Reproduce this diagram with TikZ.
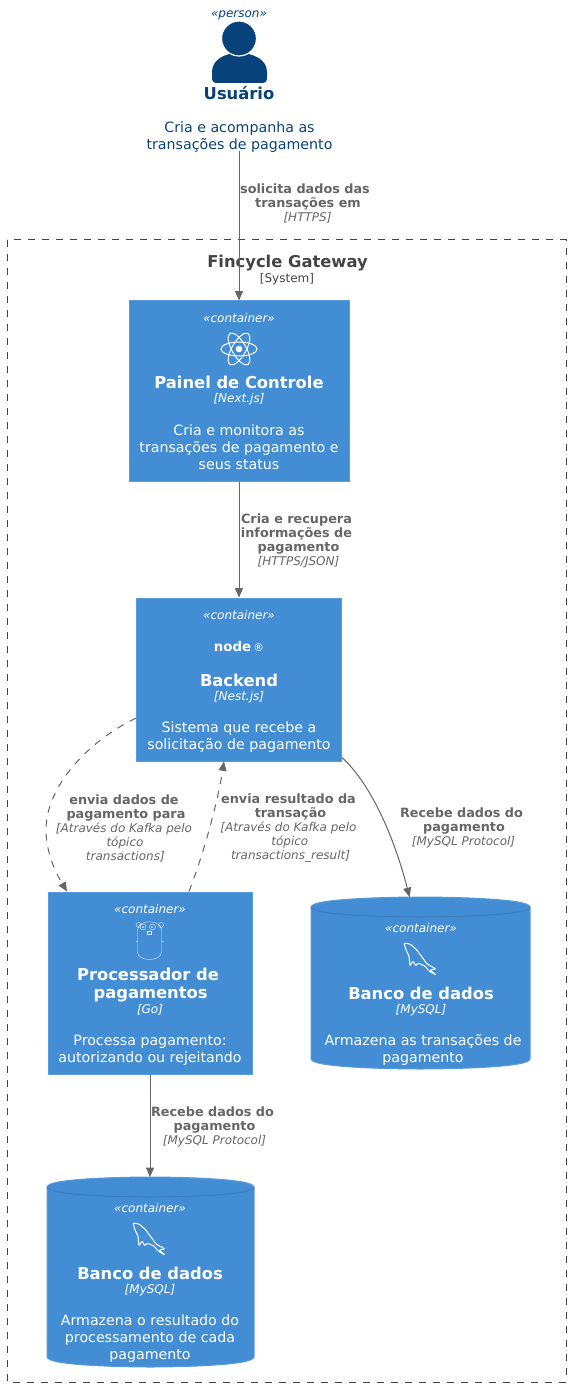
\documentclass[tikz,border=0pt]{standalone}
\usepackage{fontspec}
\setmainfont{DejaVu Sans}
\usetikzlibrary{arrows.meta}
\definecolor{contblue}{HTML}{438DD5}
\definecolor{contline}{HTML}{3C7FC0}
\definecolor{contedge}{HTML}{5A9BDB}
\definecolor{persblue}{HTML}{08427B}
\definecolor{relgray}{HTML}{666666}
\definecolor{bndgray}{HTML}{444444}
\newcommand{\dbshape}[1]{%
  \path[draw=contedge, fill=contblue, line width=0.75pt]
    ([yshift=-7.5pt]#1.north west) .. controls (#1.north west) and (#1.north) .. (#1.north)
    .. controls (#1.north) and (#1.north east) .. ([yshift=-7.5pt]#1.north east)
    -- ([yshift=7.5pt]#1.south east) .. controls (#1.south east) and (#1.south) .. (#1.south)
    .. controls (#1.south) and (#1.south west) .. ([yshift=7.5pt]#1.south west) -- cycle;
  \draw[contline, line width=0.75pt]
    ([yshift=-7.5pt]#1.north west) .. controls ([yshift=-15pt]#1.north west) and ([yshift=-15pt]#1.north) .. ([yshift=-15pt]#1.north)
    .. controls ([yshift=-15pt]#1.north) and ([yshift=-15pt]#1.north east) .. ([yshift=-7.5pt]#1.north east);}

\begin{document}
\begin{tikzpicture}[
  x=0.75pt, y=-0.75pt,
  box/.style={draw=contedge, fill=contblue, line width=0.75pt, inner sep=0pt},
  dbase/.style={inner sep=0pt, outer sep=0pt},
  stereo/.style={font=\fontsize{9}{10.5}\selectfont\itshape, text=white, inner sep=0pt},
  ttl/.style={font=\fontsize{12.25}{13.5}\selectfont\bfseries, text=white, align=center, inner sep=0pt},
  tech/.style={font=\fontsize{9}{10.5}\selectfont\itshape, text=white, inner sep=0pt},
  desc/.style={font=\fontsize{10.65}{12.75}\selectfont, text=white, align=center, inner sep=0pt},
  rel/.style={font=\fontsize{9}{10.5}\selectfont, text=relgray, align=center, inner sep=0pt},
  ar/.style={-{Triangle[length=7pt,width=6pt]}, relgray, line width=0.75pt},
  dar/.style={ar, dash pattern=on 5.25pt off 5.25pt},
  icon/.style={white, line width=0.75pt},
  dolphin/.pic={\draw[icon, rounded corners=0.8pt] (0,0) -- (6,1) -- (12,6) -- (18,14) -- (23,21) -- (32,26)
     -- (26,27) -- (32,32) -- (25,28) -- (21,23) -- (14,20) -- (12,23) -- (9,18) -- (6,23) -- (5,13) -- (2,7) -- cycle;},
]
\newcommand{\bl}[1]{{\fontsize{9.6}{10.5}\selectfont\bfseries #1}}
\newcommand{\il}[1]{\textit{#1}}
\useasboundingbox (0,0) rectangle (571,1387);

% ---- user -----------------------------------------------------------------
\node[stereo, text=persblue] (usrst) at (239,15.5) {«person»};
\fill[persblue] (217,83) .. controls (213,83) and (212,81) .. (212,77) -- (212,72)
  .. controls (212,60) and (224,53) .. (239,53) .. controls (254,53) and (267,60) .. (267,72)
  -- (267,77) .. controls (267,81) and (266,83) .. (262,83) -- cycle;
\fill[persblue, draw=white, line width=0.9pt] (239,38.5) circle (17.5);
\node[ttl, text=persblue] (usrname) at (239,93) {Usuário};
\node[desc, text=persblue] (usr) at (239.5,137) {Cria e acompanha as\\ transações de pagamento};

% ---- system boundary ------------------------------------------------------
\draw[bndgray, line width=0.75pt, dash pattern=on 5.25pt off 5.25pt] (7,240) rectangle (566,1382);
\node[ttl, text=bndgray] (sysname) at (287.5,263) {Fincycle Gateway};
\node[tech, text=bndgray, font=\fontsize{9}{10.5}\selectfont] (systech) at (287,279) {[System]};

% ---- painel ---------------------------------------------------------------
\node[box, minimum width=165pt, minimum height=135pt] (painel) at (239,391) {};
\node[stereo] (painelst) at (239,318) {«container»};
\begin{scope}[shift={(239,349)}]
  \foreach \r in {0,60,120} \draw[icon, rotate=\r] (0,0) ellipse (18 and 7);
  \fill[white] (0,0) circle (3.3);
\end{scope}
\node[ttl] (painelname) at (239,382.5) {Painel de Controle};
\node[tech] (paineltech) at (239,399.5) {[Next.js]};
\node[desc] (paineldesc) at (239,447.5) {Cria e monitora as\\ transações de pagamento e\\ seus status};

% ---- backend --------------------------------------------------------------
\node[box, minimum width=153.75pt, minimum height=122.25pt] (backend) at (239,679.5) {};
\node[stereo] (backendst) at (239,615) {«container»};
\node[text=white, inner sep=0pt, font=\fontsize{10}{12}\selectfont\bfseries] (nodelogo) at (239,647)
  {node\,{\fontsize{8}{9}\selectfont\mdseries®}};
\node[ttl] (backendname) at (239,680) {Backend};
\node[tech] (backendtech) at (239,697) {[Nest.js]};
\node[desc] (backenddesc) at (239,737) {Sistema que recebe a\\ solicitação de pagamento};

% ---- processador ----------------------------------------------------------
\node[box, minimum width=153pt, minimum height=136.5pt] (proc) at (150,983) {};
\node[stereo] (procst) at (150,909) {«container»};
\begin{scope}[white, line width=0.3pt, opacity=0.8]
  \draw (137.5,930) .. controls (137.5,919) and (161.5,919) .. (161.5,930) -- (161.5,952)
    .. controls (161.5,962) and (137.5,962) .. (137.5,952) -- cycle;
  \draw (138.5,925) circle (2.5) (161,925) circle (2.5);
  \draw (143,927) circle (3) (152.5,927) circle (3);
  \fill (143,927) circle (1) (152,927) circle (1);
  \draw (147.5,931) rectangle (151,934);
  \draw (137.5,941) -- (136,942) (161.5,941) -- (163.5,942);
\end{scope}
\node[ttl] (procname) at (148,985.5) {Processador de\\ \hspace*{4pt}pagamentos};
\node[tech] (proctech) at (150,1010) {[Go]};
\node[desc] (procdesc) at (150,1050) {Processa pagamento:\\ autorizando ou rejeitando};

% ---- bancos ---------------------------------------------------------------
\node[dbase, minimum width=164.25pt, minimum height=129pt] (dbone) at (420.5,983) {};
\dbshape{dbone}
\node[stereo] (dbonest) at (421,928) {«container»};
\pic at (404,943) {dolphin};
\node[ttl] (dbonename) at (421,993) {Banco de dados};
\node[tech] (dbonetech) at (421,1010) {[MySQL]};
\node[desc] (dbonedesc) at (423,1050) {Armazena as transações de\\ pagamento};

\node[dbase, minimum width=155.25pt, minimum height=142.5pt] (dbtwo) at (150.5,1272) {};
\dbshape{dbtwo}
\node[stereo] (dbtwost) at (150,1208) {«container»};
\pic at (133,1223) {dolphin};
\node[ttl] (dbtwoname) at (150,1273) {Banco de dados};
\node[tech] (dbtwotech) at (150,1290) {[MySQL]};
\node[desc] (dbtwodesc) at (150,1338.5) {Armazena o resultado do\\ processamento de cada\\ pagamento};

% ---- connectors -----------------------------------------------------------
\draw[ar] ([yshift=1.5pt]usr.south -| painel.north) -- (painel.north);
\draw[ar] (painel.south) -- (backend.north);
\draw[ar] (proc.south) -- (proc.south |- dbtwo.north);
\draw[dar] ([yshift=-29pt]backend.west) .. controls (90,740) and (46,785) .. (46,830)
  .. controls (46,850) and (54,870) .. ([xshift=-62.25pt]proc.north);
\draw[dar] ([xshift=29.25pt]proc.north) .. controls (205,850) and (218,800) .. ([xshift=-11.25pt]backend.south);
\draw[ar] ([yshift=3pt]backend.south east) .. controls (372,785) and (395,840) .. ([xshift=-8.25pt]dbone.north);

% ---- connector labels -----------------------------------------------------
\node[rel] (lblusr) at (305,203.5) {\bl{solicita dados das}\\ \hspace*{4.5pt}\bl{transações em}\\ \hspace*{3.75pt}\il{[HTTPS]}};
\node[rel] (lblpainel) at (296.5,541) {\bl{Cria e recupera}\\ \bl{informações de}\\ \hspace*{3pt}\bl{pagamento}\\ \hspace*{3pt}\il{[HTTPS/JSON]}};
\node[rel] (lblproc) at (124,828) {\bl{envia dados de}\\ \hspace*{3pt}\bl{pagamento para}\\ \il{[Através do Kafka pelo}\\ \hspace*{1.5pt}\il{tópico}\\ \hspace*{2pt}\il{transactions]}};
\node[rel] (lblres) at (288.5,828) {\bl{envia resultado da}\\ \hspace*{3pt}\bl{transação}\\ \il{[Através do Kafka pelo}\\ \hspace*{2pt}\il{tópico}\\ \hspace*{3pt}\il{transactions\_result]}};
\node[rel] (lbldbone) at (461.5,828) {\bl{Recebe dados do}\\ \hspace*{3.75pt}\bl{pagamento}\\ \hspace*{3pt}\il{[MySQL Protocol]}};
\node[rel] (lbldbtwo) at (212.5,1127) {\bl{Recebe dados do}\\ \hspace*{3pt}\bl{pagamento}\\ \hspace*{3pt}\il{[MySQL Protocol]}};
\end{tikzpicture}
\end{document}
